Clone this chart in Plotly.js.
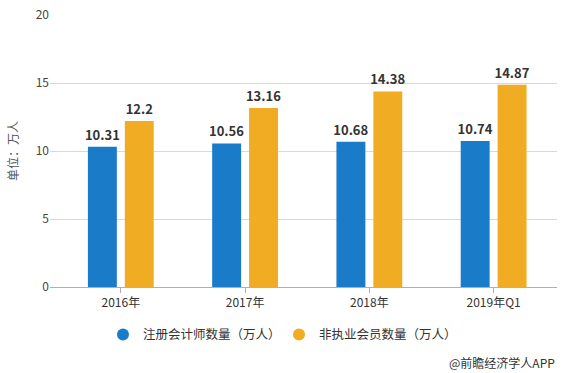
<!DOCTYPE html>
<html>
<head>
<meta charset="utf-8">
<script src="https://cdn.plot.ly/plotly-3.0.1.min.js"></script>
<style>html,body{margin:0;padding:0;background:#fff;}#chart{width:564px;height:373px;}</style>
</head>
<body>
<div id="chart"></div>
<script>
var categories = ['2016年', '2017年', '2018年', '2019年Q1'];
var cpaCount = [10.31, 10.56, 10.68, 10.74];
var nonPracticing = [12.2, 13.16, 14.38, 14.87];
var seriesNames = ['注册会计师数量（万人）', '非执业会员数量（万人）'];
var yTicks = [0, 5, 10, 15, 20];

var FONT = '"Microsoft YaHei", "Noto Sans CJK SC", "Noto Sans", sans-serif';
var BLUE = '#1a7bc8';
var ORANGE = '#f0ad24';

var labelFont = {family: FONT, size: 13, color: '#333333', weight: 'bold'};

var traces = [
  {
    type: 'bar', x: categories, y: cpaCount, name: seriesNames[0],
    marker: {color: BLUE}, text: cpaCount.map(String), textposition: 'outside',
    constraintext: 'none',
    textfont: labelFont, cliponaxis: false, showlegend: false, hoverinfo: 'none'
  },
  {
    type: 'bar', x: categories, y: nonPracticing, name: seriesNames[1],
    marker: {color: ORANGE}, text: nonPracticing.map(String), textposition: 'outside',
    constraintext: 'none',
    textfont: labelFont, cliponaxis: false, showlegend: false, hoverinfo: 'none'
  },
  {
    type: 'scatter', mode: 'markers', x: [null], y: [null], name: seriesNames[0],
    marker: {color: BLUE, size: 12, symbol: 'circle'}, showlegend: true, hoverinfo: 'none',
    legend: 'legend'
  },
  {
    type: 'scatter', mode: 'markers', x: [null], y: [null], name: seriesNames[1],
    marker: {color: ORANGE, size: 12, symbol: 'circle'}, showlegend: true, hoverinfo: 'none',
    legend: 'legend2'
  }
];

var legendFont = {family: FONT, size: 12.5, color: '#333333'};

var layout = {
  width: 564, height: 373,
  margin: {l: 50, r: 7, t: 15, b: 86},
  paper_bgcolor: '#ffffff', plot_bgcolor: '#ffffff',
  font: {family: FONT, size: 12, color: '#444444'},
  barmode: 'group', bargap: 0.406, bargroupgap: 0.216,
  xaxis: {
    type: 'category', range: [-0.57, 3.51],
    showline: true, linecolor: '#b0b0b0', linewidth: 1,
    ticks: 'outside', ticklen: 5, tickcolor: '#b0b0b0',
    tickfont: {family: FONT, size: 12, color: '#333333'},
    showgrid: false, zeroline: false, fixedrange: true
  },
  yaxis: {
    range: [0, 20], tickvals: yTicks, ticktext: yTicks.map(String),
    showgrid: true, gridcolor: '#d9d9d9', gridwidth: 1,
    zeroline: false, showline: false, ticks: '',
    tickfont: {family: FONT, size: 12, color: '#444444'},
    title: {text: '单位：万人', font: {family: FONT, size: 12, color: '#555555'}, standoff: 14},
    fixedrange: true
  },
  showlegend: true,
  legend: {
    orientation: 'h', x: 0.1045, xanchor: 'left', y: -0.176, yanchor: 'middle',
    font: legendFont, itemwidth: 30, bgcolor: 'rgba(0,0,0,0)'
  },
  legend2: {
    orientation: 'h', x: 0.4517, xanchor: 'left', y: -0.176, yanchor: 'middle',
    font: legendFont, itemwidth: 30, bgcolor: 'rgba(0,0,0,0)'
  },
  annotations: [
    {
      xref: 'paper', yref: 'paper', x: 1, y: -0.276, xanchor: 'right', yanchor: 'middle',
      text: '@前瞻经济学人APP', showarrow: false,
      font: {family: FONT, size: 12, color: '#333333'}
    }
  ]
};

Plotly.newPlot('chart', traces, layout, {displayModeBar: false, staticPlot: true});
</script>
</body>
</html>
